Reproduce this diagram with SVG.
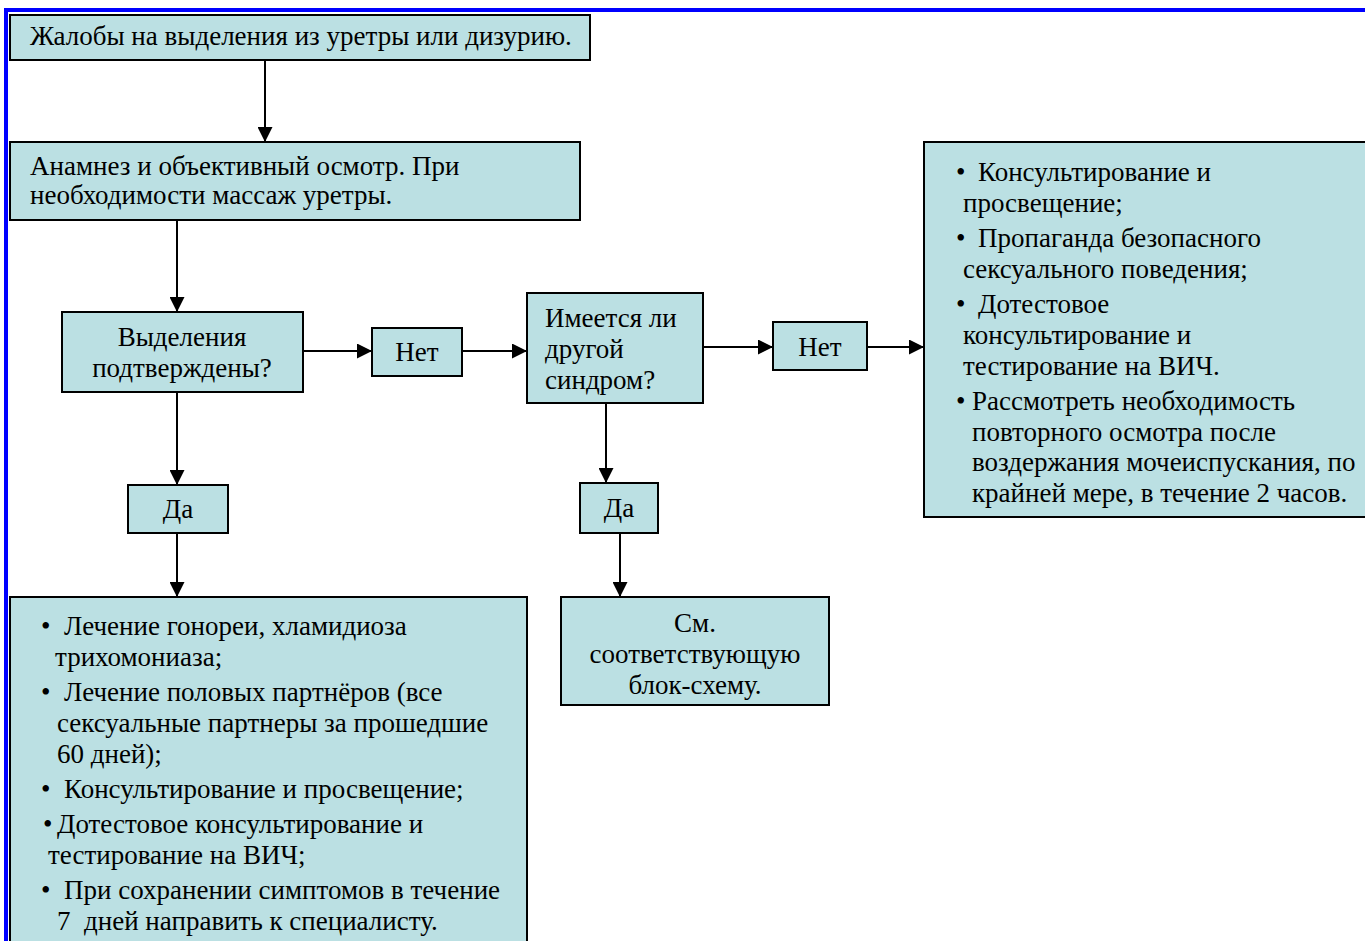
<svg xmlns="http://www.w3.org/2000/svg" width="1365" height="941" viewBox="0 0 1365 941">
<style>
.box{fill:#bbe0e3;stroke:#000;stroke-width:2}
text{font-family:"Liberation Serif","Times New Roman",serif;font-size:27px;fill:#000}
.c{text-anchor:middle}
.conn line{stroke:#000;stroke-width:2;marker-end:url(#ah)}
</style>
<defs>
<marker id="ah" viewBox="0 0 10 10" refX="10" refY="5" markerWidth="7.5" markerHeight="7.5" markerUnits="strokeWidth" orient="auto">
<path d="M0,0 L10,5 L0,10 z" fill="#000"/>
</marker>
</defs>
<rect width="1365" height="941" fill="#fff"/>
<g id="frame">
<line x1="4" y1="10" x2="1365" y2="10" stroke="#0000ff" stroke-width="4"/>
<line x1="6" y1="8" x2="6" y2="941" stroke="#0000ff" stroke-width="4"/>
</g>
<g id="n1"><rect class="box" x="10" y="15" width="580" height="45"/>
<text x="30" y="45">Жалобы на выделения из уретры или дизурию.</text></g>
<g id="n2"><rect class="box" x="10" y="142" width="570" height="78"/>
<text x="30" y="175">Анамнез и объективный осмотр. При</text>
<text x="30" y="204">необходимости массаж уретры.</text></g>
<g id="n3"><rect class="box" x="62" y="312" width="241" height="80"/>
<text class="c" x="182" y="346">Выделения</text>
<text class="c" x="182" y="377">подтверждены?</text></g>
<g id="n4"><rect class="box" x="372" y="328" width="90" height="48"/>
<text class="c" x="417" y="361">Нет</text></g>
<g id="n5"><rect class="box" x="527" y="293" width="176" height="110"/>
<text x="545" y="327">Имеется ли</text>
<text x="545" y="358">другой</text>
<text x="545" y="389">синдром?</text></g>
<g id="n6"><rect class="box" x="773" y="322" width="94" height="48"/>
<text class="c" x="820" y="356">Нет</text></g>
<g id="n7"><rect class="box" x="924" y="142" width="445" height="375"/>
<text x="956" y="181">•<tspan x="978">Консультирование и</tspan></text>
<text x="963" y="212">просвещение;</text>
<text x="956" y="247">•<tspan x="978">Пропаганда безопасного</tspan></text>
<text x="963" y="278">сексуального поведения;</text>
<text x="956" y="313">•<tspan x="978">Дотестовое</tspan></text>
<text x="963" y="344">консультирование и</text>
<text x="963" y="375">тестирование на ВИЧ.</text>
<text x="956" y="410">•<tspan x="972">Рассмотреть необходимость</tspan></text>
<text x="972" y="441">повторного осмотра после</text>
<text x="972" y="471">воздержания мочеиспускания, по</text>
<text x="972" y="502">крайней мере, в течение 2 часов.</text></g>
<g id="n8"><rect class="box" x="128" y="485" width="100" height="48"/>
<text class="c" x="178" y="518">Да</text></g>
<g id="n9"><rect class="box" x="580" y="483" width="78" height="50"/>
<text class="c" x="619" y="517">Да</text></g>
<g id="n10"><rect class="box" x="10" y="597" width="517" height="360"/>
<text x="41" y="635">•<tspan x="64">Лечение гонореи, хламидиоза</tspan></text>
<text x="55" y="666">трихомониаза;</text>
<text x="41" y="701">•<tspan x="64">Лечение половых партнёров (все</tspan></text>
<text x="57" y="732">сексуальные партнеры за прошедшие</text>
<text x="57" y="763">60 дней);</text>
<text x="41" y="798">•<tspan x="64">Консультирование и просвещение;</tspan></text>
<text x="43" y="833">•<tspan x="57">Дотестовое консультирование и</tspan></text>
<text x="48" y="864">тестирование на ВИЧ;</text>
<text x="41" y="899">•<tspan x="64">При сохранении симптомов в течение</tspan></text>
<text x="57" y="930" xml:space="preserve">7  дней направить к специалисту.</text></g>
<g id="n11"><rect class="box" x="561" y="597" width="268" height="108"/>
<text class="c" x="695" y="632">См.</text>
<text class="c" x="695" y="663">соответствующую</text>
<text class="c" x="695" y="694">блок-схему.</text></g>
<g class="conn" id="connectors">
<line x1="265" y1="60" x2="265" y2="142"/>
<line x1="177" y1="220" x2="177" y2="312"/>
<line x1="303" y1="351" x2="372" y2="351"/>
<line x1="462" y1="351" x2="527" y2="351"/>
<line x1="703" y1="347" x2="773" y2="347"/>
<line x1="867" y1="347" x2="924" y2="347"/>
<line x1="177" y1="392" x2="177" y2="485"/>
<line x1="177" y1="533" x2="177" y2="597"/>
<line x1="606" y1="403" x2="606" y2="483"/>
<line x1="620" y1="533" x2="620" y2="597"/>
</g>
</svg>
